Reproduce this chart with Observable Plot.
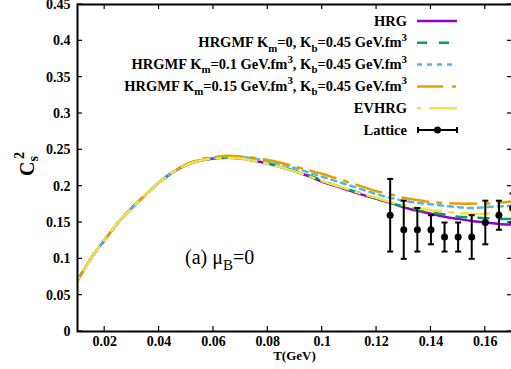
<!DOCTYPE html>
<html><head><meta charset="utf-8">
<script src="https://cdn.jsdelivr.net/npm/d3@7"></script>
<script src="https://cdn.jsdelivr.net/npm/@observablehq/plot@0.6"></script>
<style>
html,body{margin:0;padding:0;background:#fff;overflow:hidden;}
#chart{position:relative;width:511px;height:369px;overflow:hidden;}
</style></head><body><div id="chart"></div>
<script>
// Temperature grid (GeV)
const T = [0.01,0.015,0.02,0.025,0.03,0.035,0.04,0.045,0.05,0.055,0.06,0.065,0.07,0.075,0.08,0.085,0.09,0.095,0.1,0.105,0.11,0.115,0.12,0.125,0.13,0.135,0.14,0.145,0.15,0.155,0.16,0.165,0.17];
// c_s^2 series
const hrg    = [0.070,0.101,0.126,0.150,0.170,0.188,0.205,0.219,0.229,0.235,0.238,0.239,0.238,0.235,0.231,0.226,0.220,0.214,0.206,0.200,0.194,0.188,0.1825,0.177,0.171,0.166,0.162,0.158,0.155,0.152,0.150,0.148,0.147];
const km0    = [0.070,0.101,0.126,0.150,0.170,0.188,0.205,0.219,0.229,0.235,0.238,0.239,0.239,0.236,0.232,0.227,0.221,0.215,0.208,0.201,0.195,0.189,0.183,0.177,0.172,0.168,0.164,0.161,0.158,0.157,0.156,0.155,0.155];
const km01   = [0.070,0.101,0.126,0.150,0.170,0.188,0.205,0.219,0.230,0.236,0.239,0.240,0.240,0.238,0.234,0.230,0.225,0.219,0.213,0.207,0.201,0.195,0.189,0.184,0.180,0.177,0.175,0.173,0.171,0.170,0.171,0.172,0.173];
const km015  = [0.070,0.101,0.126,0.150,0.170,0.188,0.205,0.219,0.230,0.237,0.240,0.242,0.241,0.239,0.236,0.232,0.227,0.222,0.217,0.211,0.205,0.199,0.193,0.189,0.184,0.181,0.178,0.177,0.176,0.176,0.176,0.177,0.179];
const evhrg  = [0.070,0.101,0.126,0.150,0.170,0.188,0.205,0.219,0.229,0.235,0.238,0.239,0.238,0.235,0.231,0.226,0.220,0.214,0.207,0.201,0.195,0.189,0.184,0.178,0.174,0.170,0.167,0.165,0.163,0.162,0.162,0.164,0.166];
// Lattice data
const latT   = [0.125,0.13,0.135,0.14,0.145,0.15,0.155,0.16,0.165,0.17];
const latC   = [0.16,0.14,0.14,0.14,0.13,0.13,0.13,0.15,0.16,0.17];
const latErr = [0.05,0.04,0.03,0.02,0.02,0.02,0.03,0.03,0.02,0.02];
// ticks
const xTicks = [0.02,0.04,0.06,0.08,0.1,0.12,0.14,0.16];
const yTicks = [0,0.05,0.1,0.15,0.2,0.25,0.3,0.35,0.4,0.45];
// series styling
const seriesColors = ["#9400d3","#009e73","#56b4e9","#e69f00","#f0e442"];
const seriesDash = [null,"10,12","5,5","26,9,4,9","4,8,28,8"];

const FONT = "'Liberation Serif','Times New Roman',serif";
const curves = [hrg, km0, km01, km015, evhrg];
const lat = latT.map((t,i)=>({t, c: latC[i], lo: latC[i]-latErr[i], hi: latC[i]+latErr[i]}));
const cap = {draw(ctx){ ctx.moveTo(-3,0); ctx.lineTo(3,0); }};

const plot = Plot.plot({
  width: 513, height: 369,
  marginLeft: 77, marginRight: 1, marginTop: 4, marginBottom: 38,
  style: {fontFamily: FONT, fontSize: "14px", fontWeight: "bold", background: "white", color: "black", overflow: "visible", maxWidth: "none"},
  x: {domain: [0.01, 0.17]},
  y: {domain: [0, 0.45]},
  marks: [
    ...curves.map((vals,k) => Plot.line(vals, {x: (d,i)=>T[i], y: d=>d, stroke: seriesColors[k], strokeWidth: 2.5, strokeDasharray: seriesDash[k], curve: "catmull-rom", clip: true})),
    Plot.ruleX(lat, {x: "t", y1: "lo", y2: "hi", stroke: "black", strokeWidth: 2, clip: true}),
    Plot.dot(lat, {x: "t", y: "lo", symbol: cap, stroke: "black", strokeWidth: 2, fill: "none", clip: true}),
    Plot.dot(lat, {x: "t", y: "hi", symbol: cap, stroke: "black", strokeWidth: 2, fill: "none", clip: true}),
    Plot.dot(lat, {x: "t", y: "c", r: 3.5, fill: "black", stroke: "none", clip: true}),
    Plot.frame({stroke: "black", strokeWidth: 2}),
    Plot.axisX({ticks: xTicks, tickSize: 0, tickPadding: 5, tickFormat: d => String(d), label: null}),
    Plot.axisY({ticks: yTicks, tickSize: 0, tickPadding: 7, tickFormat: d => String(d), label: null})
  ]
});
document.getElementById("chart").appendChild(plot);

const xs = plot.scale("x"), ys = plot.scale("y");
const svg = d3.select(plot);
const [x0, x1] = xs.range, [y0, y1] = ys.range; // y0 bottom, y1 top
const g = svg.append("g").attr("stroke", "black").attr("stroke-width", 1.2);
for (const t of xTicks) {
  const x = xs.apply(t);
  g.append("line").attr("x1", x).attr("x2", x).attr("y1", y0).attr("y2", y0 - 5);
  g.append("line").attr("x1", x).attr("x2", x).attr("y1", y1).attr("y2", y1 + 5);
}
for (const v of yTicks) {
  const y = ys.apply(v);
  g.append("line").attr("x1", x0).attr("x2", x0 + 5).attr("y1", y).attr("y2", y);
  g.append("line").attr("x1", x1).attr("x2", x1 - 5).attr("y1", y).attr("y2", y);
}

function rich(sel, parts, base) {
  let cur = 0;
  for (const [txt, mode] of parts) {
    const off = mode === "sub" ? base * 0.3 : mode === "sup" ? -base * 0.45 : 0;
    sel.append("tspan").attr("dy", off - cur).attr("font-size", mode ? base * 0.75 : base).text(txt);
    cur = off;
  }
}

// axis titles
svg.append("text").attr("x", (x0 + x1) / 2).attr("y", 360).attr("text-anchor", "middle")
  .attr("font-size", 13).attr("font-weight", "bold").attr("font-family", FONT).text("T(GeV)");
const yl = svg.append("text").attr("transform", "translate(34,176) rotate(-90)").attr("text-anchor", "start")
  .attr("font-size", 20).attr("font-weight", "bold").attr("font-family", FONT);
yl.append("tspan").text("C");
yl.append("tspan").attr("dy", 4).attr("font-size", 14).text("s");
yl.append("tspan").attr("dx", -3).attr("dy", -14).attr("font-size", 14).text("2");

// annotation
const ann = svg.append("text").attr("x", 185).attr("y", 264).attr("text-anchor", "start").attr("font-family", FONT).attr("font-weight", "normal");
rich(ann, [["(a) μ", null], ["B", "sub"], ["=0", null]], 20);

// legend
const legendLabels = [
  [["HRG", null]],
  [["HRGMF K", null], ["m", "sub"], ["=0, K", null], ["b", "sub"], ["=0.45 GeV.fm", null], ["3", "sup"]],
  [["HRGMF K", null], ["m", "sub"], ["=0.1 GeV.fm", null], ["3", "sup"], [", K", null], ["b", "sub"], ["=0.45 GeV.fm", null], ["3", "sup"]],
  [["HRGMF K", null], ["m", "sub"], ["=0.15 GeV.fm", null], ["3", "sup"], [", K", null], ["b", "sub"], ["=0.45 GeV.fm", null], ["3", "sup"]],
  [["EVHRG", null]],
  [["Lattice", null]]
];
const lg = svg.append("g").attr("font-family", FONT).attr("font-weight", "bold");
legendLabels.forEach((parts, i) => {
  const cy = 21 + i * 21.8;
  const t = lg.append("text").attr("x", 407).attr("y", cy + 4.5).attr("text-anchor", "end");
  rich(t, parts, 14.5);
  if (i < 5) {
    lg.append("line").attr("x1", 417).attr("x2", 457).attr("y1", cy).attr("y2", cy)
      .attr("stroke", seriesColors[i]).attr("stroke-width", 2.5).attr("stroke-dasharray", seriesDash[i]);
  } else {
    lg.append("line").attr("x1", 418).attr("x2", 457).attr("y1", cy).attr("y2", cy).attr("stroke", "black").attr("stroke-width", 2);
    lg.append("line").attr("x1", 418).attr("x2", 418).attr("y1", cy - 3).attr("y2", cy + 3).attr("stroke", "black").attr("stroke-width", 2);
    lg.append("line").attr("x1", 457).attr("x2", 457).attr("y1", cy - 3).attr("y2", cy + 3).attr("stroke", "black").attr("stroke-width", 2);
    lg.append("circle").attr("cx", 437.5).attr("cy", cy).attr("r", 3.5).attr("fill", "black");
  }
});
</script></body></html>
